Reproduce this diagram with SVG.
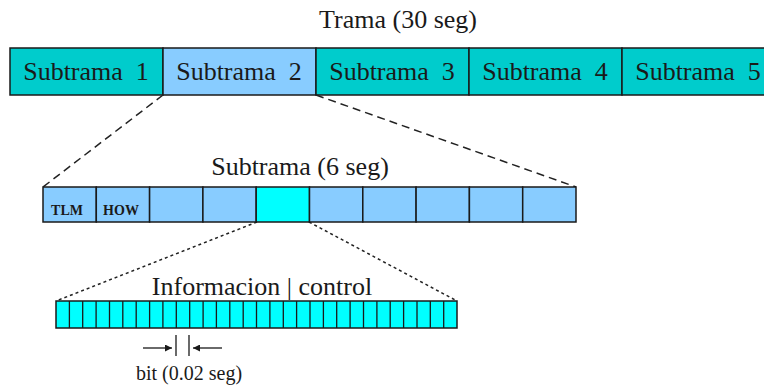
<svg xmlns="http://www.w3.org/2000/svg" width="764" height="386" viewBox="0 0 764 386">
<style>
text{font-family:"Liberation Serif","Times New Roman",serif;fill:#1a1a1a;white-space:pre}
.big{font-size:26px}
.sf{fill:#00CCCC;stroke:#1a1a1a;stroke-width:1.5}
.lb{fill:#88CCFF;stroke:#1a1a1a;stroke-width:1.5}
.cy{fill:#00FFFF;stroke:#1a1a1a;stroke-width:1.5}
.dash{stroke:#222;stroke-width:1.5;stroke-dasharray:8 5;fill:none}
.dot{stroke:#222;stroke-width:1.5;stroke-dasharray:3 3;fill:none}
.bit{stroke:#1a1a1a;stroke-width:1.3}
</style>
<defs>
<marker id="ah" viewBox="0 0 10 10" refX="10" refY="5" markerWidth="9" markerHeight="7" markerUnits="userSpaceOnUse" orient="auto"><path d="M0,0 L10,5 L0,10 z" fill="#1a1a1a"/></marker>
</defs>
<g id="trama">
<text class="big" x="398" y="28" text-anchor="middle">Trama (30 seg)</text>
<g id="sub1"><rect class="sf" x="10" y="48" width="153" height="47"/><text class="big" x="86" y="80" text-anchor="middle">Subtrama  1</text></g>
<g id="sub2"><rect class="lb" x="163" y="48" width="153" height="47"/><text class="big" x="239" y="80" text-anchor="middle">Subtrama  2</text></g>
<g id="sub3"><rect class="sf" x="316" y="48" width="153" height="47"/><text class="big" x="392" y="80" text-anchor="middle">Subtrama  3</text></g>
<g id="sub4"><rect class="sf" x="469" y="48" width="153" height="47"/><text class="big" x="545" y="80" text-anchor="middle">Subtrama  4</text></g>
<g id="sub5"><rect class="sf" x="622" y="48" width="160" height="47"/><text class="big" x="698" y="80" text-anchor="middle">Subtrama  5</text></g>
</g>
<g id="connectors">
<line class="dash" x1="163" y1="95" x2="43" y2="187"/>
<line class="dash" x1="316" y1="95" x2="576" y2="187"/>
<line class="dot" x1="257" y1="222" x2="56" y2="301"/>
<line class="dot" x1="309" y1="222" x2="457" y2="301"/>
<line class="bit" x1="143" y1="348" x2="172" y2="348" marker-end="url(#ah)"/>
<line class="bit" x1="222" y1="348" x2="193" y2="348" marker-end="url(#ah)"/>
</g>
<g id="subframe">
<text class="big" x="300" y="175" text-anchor="middle">Subtrama (6 seg)</text>
<rect class="lb" x="43" y="187" width="53.3" height="35"/>
<rect class="lb" x="96.3" y="187" width="53.3" height="35"/>
<rect class="lb" x="149.6" y="187" width="53.3" height="35"/>
<rect class="lb" x="202.9" y="187" width="53.3" height="35"/>
<rect class="cy" x="256.2" y="187" width="53.3" height="35"/>
<rect class="lb" x="309.5" y="187" width="53.3" height="35"/>
<rect class="lb" x="362.8" y="187" width="53.3" height="35"/>
<rect class="lb" x="416.1" y="187" width="53.3" height="35"/>
<rect class="lb" x="469.4" y="187" width="53.3" height="35"/>
<rect class="lb" x="522.7" y="187" width="53.3" height="35"/>
<text x="67" y="215" text-anchor="middle" font-size="14" font-weight="bold">TLM</text>
<text x="121" y="215" text-anchor="middle" font-size="14" font-weight="bold">HOW</text>
</g>
<g id="word">
<text class="big" x="262" y="295" text-anchor="middle">Informacion | control</text>
<rect class="cy" x="56" y="301" width="401" height="27"/>
<path class="bit" fill="none" d="M69.4,301v27M82.7,301v27M96.1,301v27M109.5,301v27M122.8,301v27M136.2,301v27M149.6,301v27M162.9,301v27M176.3,301v27M189.7,301v27M203.1,301v27M216.4,301v27M229.8,301v27M243.2,301v27M256.5,301v27M269.9,301v27M283.3,301v27M296.6,301v27M310,301v27M323.4,301v27M336.7,301v27M350.1,301v27M363.5,301v27M376.9,301v27M390.2,301v27M403.6,301v27M417,301v27M430.3,301v27M443.7,301v27"/>
</g>
<g id="bitmark">
<line class="bit" x1="176" y1="335" x2="176" y2="356"/>
<line class="bit" x1="189" y1="335" x2="189" y2="356"/>
<text x="189" y="380" text-anchor="middle" font-size="20">bit (0.02 seg)</text>
</g>
</svg>
